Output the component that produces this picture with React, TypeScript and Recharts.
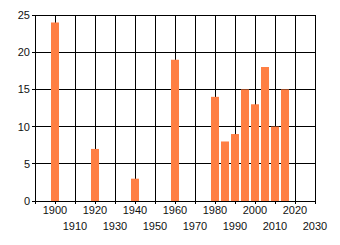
import React from "react";
import { BarChart, Bar, XAxis, YAxis, CartesianGrid } from "recharts";

const years = [1900, 1920, 1940, 1960, 1980, 1985, 1990, 1995, 2000, 2005, 2010, 2015];
const values = [24, 7, 3, 19, 14, 8, 9, 15, 13, 18, 10, 15];
const xTicks = [1890, 1900, 1910, 1920, 1930, 1940, 1950, 1960, 1970, 1980, 1990, 2000, 2010, 2020, 2030];
const yTicks = [0, 5, 10, 15, 20, 25];

const data = years.map((year, i) => ({ year, value: values[i] }));

const font = "'Liberation Sans', Arial, sans-serif";

function YearTick(props: any) {
  const { x, payload } = props;
  const year = payload.value;
  if (year === 1890) return null;
  const lower = ((year - 1900) / 10) % 2 !== 0;
  return (
    <text x={x} y={lower ? 230 : 214} textAnchor="middle" fill="#111" fontSize={11} fontFamily={font}>
      {year}
    </text>
  );
}

export default function App() {
  return (
    <div style={{ position: "absolute", left: 0, top: 0, width: 340, height: 245, background: "#fff" }}>
      <BarChart width={340} height={245} data={data} margin={{ top: 15, right: 25, left: 0, bottom: 0 }}>
        <CartesianGrid stroke="#000" strokeWidth={1} shapeRendering="crispEdges" />
        <XAxis
          dataKey="year"
          type="number"
          domain={[1890, 2030]}
          ticks={xTicks}
          interval={0}
          height={44}
          axisLine={{ stroke: "#000", shapeRendering: "crispEdges" }}
          tickLine={{ stroke: "#000", shapeRendering: "crispEdges" }}
          tickSize={3}
          tick={<YearTick />}
        />
        <YAxis
          domain={[0, 25]}
          ticks={yTicks}
          width={35}
          axisLine={{ stroke: "#000", shapeRendering: "crispEdges" }}
          tickLine={{ stroke: "#000", shapeRendering: "crispEdges" }}
          tickSize={3}
          tick={{ fill: "#111", fontSize: 11, fontFamily: font }}
        />
        <Bar dataKey="value" fill="#FF7F44" barSize={8} isAnimationActive={false} />
      </BarChart>
    </div>
  );
}
